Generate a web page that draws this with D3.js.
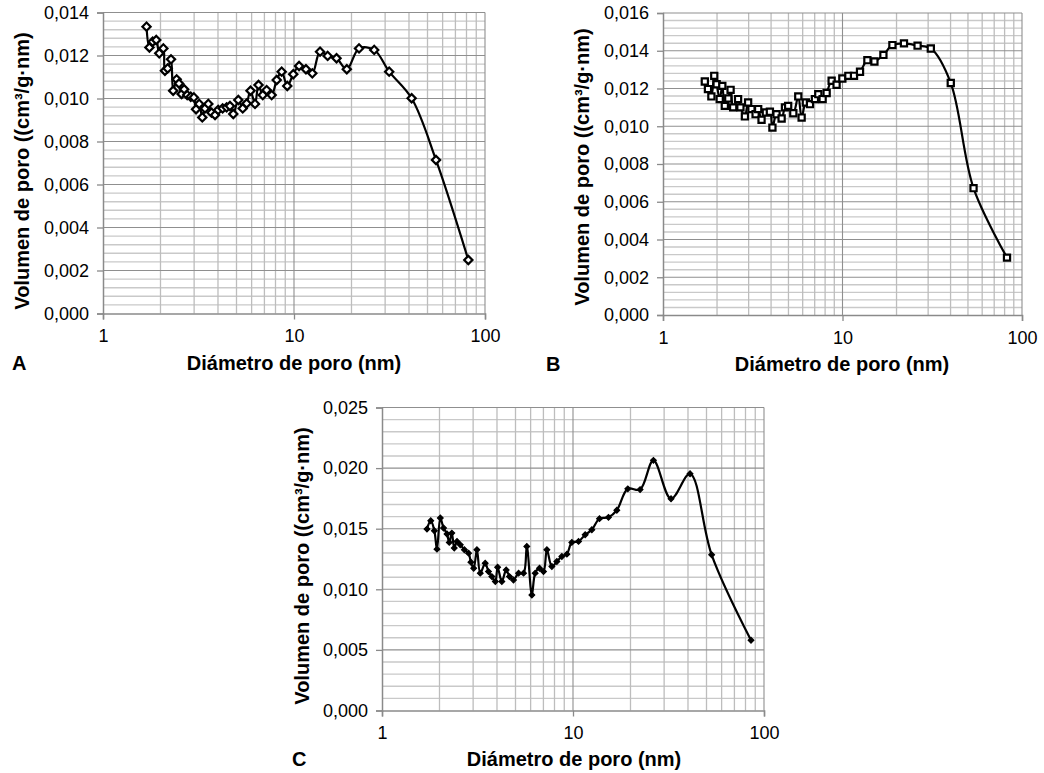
<!DOCTYPE html>
<html>
<head>
<meta charset="utf-8">
<title>Distribución de poro</title>
<script src="https://cdn.jsdelivr.net/npm/d3@7"></script>
<style>
  body { margin: 0; background: #fff; }
  text { font-family: Arial, "Liberation Sans", sans-serif; }
  .tick text { font-size: 18px; fill: #000; }
  .axtitle { font-size: 20px; font-weight: bold; }
</style>
</head>
<body>
<script>
// pore diameter (nm) / pore volume (cm3/g.nm)
var diamA = [1.69, 1.75, 1.82, 1.90, 1.97, 2.07, 2.11, 2.18, 2.27, 2.33, 2.43, 2.50, 2.58, 2.66, 2.76, 2.88, 2.99, 3.07, 3.19, 3.31, 3.42, 3.56, 3.70, 3.86, 4.01, 4.23, 4.44, 4.62, 4.81, 5.11, 5.39, 5.65, 5.92, 6.25, 6.52, 6.86, 7.19, 7.64, 8.12, 8.62, 9.22, 9.91, 10.63, 11.55, 12.47, 13.69, 15.0, 16.7, 18.9, 21.9, 26.3, 31.5, 41.3, 55.4, 81.8];
var volA = [0.01334, 0.01237, 0.01264, 0.01272, 0.01210, 0.01233, 0.01129, 0.01140, 0.01182, 0.01036, 0.01089, 0.01070, 0.01021, 0.01043, 0.01016, 0.01008, 0.01005, 0.00950, 0.00975, 0.00912, 0.00954, 0.00975, 0.00934, 0.00923, 0.00947, 0.00954, 0.00959, 0.00965, 0.00928, 0.00993, 0.00954, 0.00977, 0.01036, 0.00975, 0.01063, 0.01016, 0.01039, 0.01016, 0.01086, 0.01125, 0.01058, 0.01113, 0.01151, 0.01136, 0.01117, 0.01218, 0.01198, 0.01187, 0.01136, 0.01233, 0.01226, 0.01125, 0.01001, 0.00714, 0.00249];

var diamB = [1.71, 1.78, 1.86, 1.93, 1.99, 2.07, 2.14, 2.21, 2.31, 2.38, 2.46, 2.62, 2.70, 2.86, 2.98, 3.11, 3.28, 3.39, 3.54, 3.74, 3.94, 4.07, 4.29, 4.58, 4.78, 4.98, 5.32, 5.67, 5.92, 6.25, 6.59, 7.02, 7.33, 7.75, 8.16, 8.70, 9.27, 9.98, 10.78, 11.59, 12.52, 13.76, 15.06, 16.9, 18.97, 22.0, 26.2, 31.05, 40.1, 53.7, 82.5];
var volB = [0.01237, 0.01197, 0.01158, 0.01267, 0.01223, 0.01144, 0.01214, 0.01108, 0.01147, 0.01193, 0.01100, 0.01144, 0.01100, 0.01052, 0.01126, 0.01091, 0.01064, 0.01091, 0.01034, 0.01073, 0.01077, 0.00993, 0.01064, 0.01041, 0.01100, 0.01108, 0.01069, 0.01158, 0.01046, 0.01126, 0.01117, 0.01144, 0.01170, 0.01144, 0.01176, 0.01241, 0.01220, 0.01253, 0.01267, 0.01267, 0.01289, 0.01350, 0.01343, 0.01378, 0.01430, 0.01439, 0.01427, 0.01412, 0.01229, 0.00672, 0.00304];

var diamC = [1.72, 1.80, 1.88, 1.94, 2.02, 2.10, 2.19, 2.25, 2.32, 2.39, 2.47, 2.57, 2.70, 2.84, 2.92, 3.02, 3.14, 3.27, 3.47, 3.61, 3.76, 3.92, 4.03, 4.24, 4.47, 4.65, 4.88, 5.19, 5.51, 5.73, 6.09, 6.34, 6.68, 7.01, 7.30, 7.75, 8.23, 8.74, 9.29, 9.86, 10.69, 11.58, 12.55, 13.76, 15.34, 16.96, 19.36, 22.45, 26.37, 32.6, 41.0, 53.2, 85.5];
var volC = [0.01497, 0.01566, 0.01483, 0.01331, 0.01588, 0.01506, 0.01456, 0.01387, 0.01464, 0.01340, 0.01395, 0.01367, 0.01326, 0.01298, 0.01224, 0.01174, 0.01326, 0.01133, 0.01215, 0.01146, 0.01105, 0.01064, 0.01182, 0.01064, 0.01160, 0.01105, 0.01077, 0.01133, 0.01133, 0.01354, 0.00953, 0.01133, 0.01174, 0.01146, 0.01326, 0.01188, 0.01229, 0.01271, 0.01290, 0.01387, 0.01395, 0.01450, 0.01491, 0.01583, 0.01594, 0.01652, 0.01829, 0.01823, 0.02064, 0.01747, 0.01953, 0.01285, 0.00580];

var xTicks = [1, 10, 100];
var yTicksA = [0, 0.002, 0.004, 0.006, 0.008, 0.010, 0.012, 0.014];
var yTicksB = [0, 0.002, 0.004, 0.006, 0.008, 0.010, 0.012, 0.014, 0.016];
var yTicksC = [0, 0.005, 0.010, 0.015, 0.020, 0.025];

var xTitle = "Diámetro de poro (nm)";
var yTitle = "Volumen de poro ((cm³/g·nm)";

var W = 1044, H = 773;
var svg = d3.select("body").append("svg").attr("width", W).attr("height", H);
svg.append("rect").attr("width", W).attr("height", H).attr("fill", "#fff");

var es = d3.formatLocale({decimal: ",", thousands: ".", grouping: [3], currency: ["", "€"]});
var fmt = es.format(".3f");

function panel(p) {
  var x = d3.scaleLog().domain([1, 100]).range([p.left, p.right]);
  var y = d3.scaleLinear().domain([0, p.yTicks[p.yTicks.length - 1]]).range([p.bottom, p.top]);
  var g = svg.append("g");

  // minor grid
  var step = p.yTicks[1] - p.yTicks[0];
  var minorY = [];
  for (var i = 0; i < p.yTicks.length - 1; i++)
    for (var k = 1; k < 5; k++) minorY.push(p.yTicks[i] + step * k / 5);
  var minorX = [];
  [1, 10].forEach(function(d) { for (var k = 2; k <= 9; k++) minorX.push(d * k); });

  g.selectAll(".mh").data(minorY).enter().append("line")
    .attr("x1", p.left).attr("x2", p.right)
    .attr("y1", function(d) { return y(d); }).attr("y2", function(d) { return y(d); })
    .attr("stroke", "#c9c9c9").attr("stroke-width", 1.4);
  g.selectAll(".mv").data(minorX).enter().append("line")
    .attr("y1", p.top).attr("y2", p.bottom)
    .attr("x1", function(d) { return x(d); }).attr("x2", function(d) { return x(d); })
    .attr("stroke", "#bdbdbd").attr("stroke-width", 1.3);
  // major grid
  g.selectAll(".Mh").data(p.yTicks.slice(1)).enter().append("line")
    .attr("x1", p.left).attr("x2", p.right)
    .attr("y1", function(d) { return y(d); }).attr("y2", function(d) { return y(d); })
    .attr("stroke", "#8f8f8f").attr("stroke-width", 1.1);
  g.selectAll(".Mv").data(xTicks.slice(1)).enter().append("line")
    .attr("y1", p.top).attr("y2", p.bottom)
    .attr("x1", function(d) { return x(d); }).attr("x2", function(d) { return x(d); })
    .attr("stroke", "#8f8f8f").attr("stroke-width", 1.1);

  // axes
  var ay = g.append("g").attr("transform", "translate(" + p.left + ",0)")
    .call(d3.axisLeft(y).tickValues(p.yTicks).tickSize(6).tickPadding(8).tickFormat(fmt));
  var ax = g.append("g").attr("transform", "translate(0," + p.bottom + ")")
    .call(d3.axisBottom(x).tickValues(xTicks).tickSize(6).tickPadding(10).tickFormat(d3.format("d")));
  [ax, ay].forEach(function(a) {
    a.select(".domain").attr("stroke", "#8a8a8a").attr("stroke-width", 1.5);
    a.selectAll(".tick line").attr("stroke", "#8a8a8a").attr("stroke-width", 1.3);
    a.selectAll(".tick text").attr("font-size", 18);
  });

  // data
  var pts = p.diam.map(function(d, i) { return [d, p.vol[i]]; });
  var line = d3.line()
    .x(function(d) { return x(d[0]); })
    .y(function(d) { return y(d[1]); })
    .curve(d3.curveCatmullRom.alpha(0.5));
  g.append("path").datum(pts).attr("d", line)
    .attr("fill", "none").attr("stroke", "#000").attr("stroke-width", 2.2);

  var sym = d3.symbol().type(d3.symbolSquare).size(p.msize);
  g.selectAll(".m").data(pts).enter().append("path")
    .attr("d", sym)
    .attr("transform", function(d) {
      return "translate(" + x(d[0]) + "," + y(d[1]) + ")" + (p.rot ? " rotate(45)" : "");
    })
    .attr("fill", p.mfill).attr("stroke", "#000").attr("stroke-width", p.mstroke);

  // titles
  svg.append("text").attr("class", "axtitle")
    .attr("x", p.xtX).attr("y", p.xtY).attr("text-anchor", "middle").text(xTitle);
  svg.append("text").attr("class", "axtitle")
    .attr("transform", "translate(" + p.ytX + "," + p.ytY + ") rotate(-90)")
    .attr("text-anchor", "middle").text(yTitle);
  svg.append("text").attr("class", "axtitle")
    .attr("x", p.lbX).attr("y", p.xtY).text(p.label);
}

panel({label: "A", diam: diamA, vol: volA, yTicks: yTicksA,
  left: 103, right: 485, top: 12.5, bottom: 313.5,
  msize: 34, rot: true, mfill: "#fff", mstroke: 2.2,
  xtX: 294, xtY: 370, ytX: 29, ytY: 171, lbX: 12});

panel({label: "B", diam: diamB, vol: volB, yTicks: yTicksB,
  left: 663, right: 1022, top: 13, bottom: 315,
  msize: 38, rot: false, mfill: "#fff", mstroke: 2.2,
  xtX: 842, xtY: 371, ytX: 589, ytY: 167, lbX: 546});

panel({label: "C", diam: diamC, vol: volC, yTicks: yTicksC,
  left: 382, right: 764, top: 407.5, bottom: 710.5,
  msize: 16, rot: true, mfill: "#000", mstroke: 1.2,
  xtX: 574, xtY: 766, ytX: 309, ytY: 566, lbX: 292});
</script>
</body>
</html>
